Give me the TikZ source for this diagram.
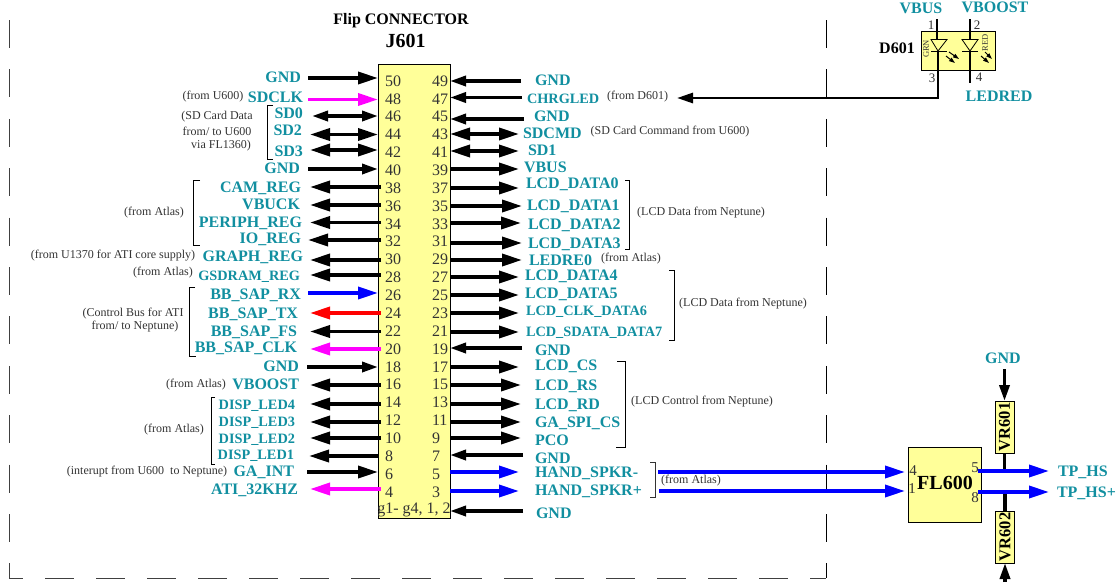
\documentclass[tikz,border=0pt]{standalone}
\usepackage{fontspec}
\setmainfont{Liberation Serif}
\usetikzlibrary{arrows.meta}
\definecolor{netteal}{HTML}{118FA0}
\definecolor{partfill}{HTML}{FFFF99}
\definecolor{notegray}{HTML}{333333}
\definecolor{clockpink}{HTML}{FF00FF}

\begin{document}
\begin{tikzpicture}[x=1pt,y=-1pt,>={Triangle[length=20pt,width=12pt]},
  line width=3.5pt,every node/.style={outer sep=0pt},
  smalltip/.style={>={Triangle[length=16pt,width=10pt]}},
  stub/.style={shorten <=-3pt},
  thin line/.style={line width=0.8pt},
  frameline/.style={line width=1pt,draw=black!75},
  net/.style={inner sep=0pt,text=netteal,text height=11pt,text depth=0pt,font=\fontsize{16}{18}\selectfont\bfseries},
  netsmall/.style={net,font=\fontsize{14.3}{18}\selectfont\bfseries},
  note/.style={inner sep=0pt,text=notegray,font=\fontsize{12}{14}\selectfont},
  pinnum/.style={inner sep=0pt,text=notegray,anchor=west,font=\fontsize{16}{18}\selectfont},
  pinsmall/.style={inner sep=0pt,text=notegray,font=\fontsize{13}{14}\selectfont},
  part/.style={draw=black,line width=1pt,fill=partfill,inner sep=0pt},
  title/.style={inner sep=0pt,text=black,font=\fontsize{16}{18}\selectfont\bfseries}]
  \useasboundingbox (0,0) rectangle (1119,582);
  % dashed outline of the flip
  \draw[frameline,dash pattern=on 28pt off 21.4pt] (9,20) -- (9,578);
  \draw[frameline,dash pattern=on 29pt off 22pt,dash phase=15pt] (9,578) -- (826,578);
  \draw[frameline,draw=black,dash pattern=on 28pt off 21.4pt] (826,20) -- (826,578);
  \node[title] (flip) at (401,21) {Flip CONNECTOR};
  \node[title,font=\fontsize{20}{22}\selectfont\bfseries] (j601) at (405.5,41) {J601};
  \node[part,anchor=north west,minimum width=72pt,minimum height=454pt] (conn) at (378,64) {};
  \foreach \n in {50,48,...,4}
    \node[pinnum] (p\n) at (385,{81+(50-\n)*8.93}) {\n};
  \foreach \n in {49,47,...,3}
    \node[pinnum] (p\n) at (432,{81+(49-\n)*8.93}) {\n};
  \node[inner sep=0pt,text=notegray,font=\fontsize{16}{18}\selectfont] (pg) at (414,510) {g1- g4, 1, 2};

  % left side nets
  \node[net,anchor=east] (n50) at (301,77) {GND};
  \node[net,anchor=east] (n48) at (303,97) {SDCLK};
  \node[net,anchor=east] (n46) at (303,113) {SD0};
  \node[net,anchor=east] (n44) at (302,130) {SD2};
  \node[net,anchor=east] (n42) at (303,151) {SD3};
  \node[net,anchor=east] (n40) at (300,168) {GND};
  \node[net,anchor=east] (n38) at (301,187) {CAM\_REG};
  \node[net,anchor=east] (n36) at (300,204) {VBUCK};
  \node[net,anchor=east] (n34) at (302,222) {PERIPH\_REG};
  \node[net,anchor=east] (n32) at (301,238) {IO\_REG};
  \node[net,anchor=east] (n30) at (303,256) {GRAPH\_REG};
  \node[netsmall,anchor=east] (n28) at (300,275) {GSDRAM\_REG};
  \node[net,anchor=east] (n26) at (301,294) {BB\_SAP\_RX};
  \node[net,anchor=east] (n24) at (298,313) {BB\_SAP\_TX};
  \node[net,anchor=east] (n22) at (297,331) {BB\_SAP\_FS};
  \node[net,anchor=east] (n20) at (297,347) {BB\_SAP\_CLK};
  \node[net,anchor=east] (n18) at (299,366) {GND};
  \node[net,anchor=east] (n16) at (299,384) {VBOOST};
  \node[netsmall,anchor=east] (n14) at (295,404) {DISP\_LED4};
  \node[netsmall,anchor=east] (n12) at (295,421) {DISP\_LED3};
  \node[netsmall,anchor=east] (n10) at (295,438) {DISP\_LED2};
  \node[netsmall,anchor=east] (n8) at (294,454) {DISP\_LED1};
  \node[net,anchor=east] (n6) at (294,471) {GA\_INT};
  \node[net,anchor=east] (n4) at (298,489) {ATI\_32KHZ};

  % left side wires
  \coordinate (w50) at (308,78); \draw[->] (w50) -- (w50 -| conn.west);
  \coordinate (w48) at (308,99.5); \draw[->,clockpink] (w48) -- (w48 -| conn.west);
  \coordinate (w46) at (312,116); \draw[<->,smalltip] (w46) -- (w46 -| conn.west);
  \coordinate (w44) at (310,134.5); \draw[<->] (w44) -- (w44 -| conn.west);
  \coordinate (w42) at (310,150); \draw[<->] (w42) -- (w42 -| conn.west);
  \coordinate (w40) at (308,169); \draw[->,smalltip] (w40) -- (w40 -| conn.west);
  \coordinate (w38) at (310,187); \draw[->,stub] (w38 -| conn.west) -- (w38);
  \coordinate (w36) at (310,205); \draw[->,stub] (w36 -| conn.west) -- (w36);
  \coordinate (w34) at (310,222.5); \draw[->,stub] (w34 -| conn.west) -- (w34);
  \coordinate (w32) at (308,240); \draw[->,stub] (w32 -| conn.west) -- (w32);
  \coordinate (w30) at (310,260); \draw[->,stub] (w30 -| conn.west) -- (w30);
  \coordinate (w28) at (310,275); \draw[->,stub] (w28 -| conn.west) -- (w28);
  \coordinate (w26) at (308,293); \draw[->,blue] (w26) -- (w26 -| conn.west);
  \coordinate (w24) at (310,313); \draw[->,red,stub] (w24 -| conn.west) -- (w24);
  \coordinate (w22) at (310,331.5); \draw[->,stub] (w22 -| conn.west) -- (w22);
  \coordinate (w20) at (310,349); \draw[->,clockpink,stub] (w20 -| conn.west) -- (w20);
  \coordinate (w18) at (307,367); \draw[->,smalltip] (w18) -- (w18 -| conn.west);
  \coordinate (w16) at (310,385); \draw[->,stub] (w16 -| conn.west) -- (w16);
  \coordinate (w14) at (310,404); \draw[->,stub] (w14 -| conn.west) -- (w14);
  \coordinate (w12) at (310,422); \draw[->,stub] (w12 -| conn.west) -- (w12);
  \coordinate (w10) at (310,438); \draw[->,stub] (w10 -| conn.west) -- (w10);
  \coordinate (w8) at (309,456); \draw[->] (w8 -| conn.west) -- (w8);
  \coordinate (w6) at (307,472); \draw[->] (w6) -- (w6 -| conn.west);
  \coordinate (w4) at (310,489); \draw[->,clockpink,stub] (w4 -| conn.west) -- (w4);

  % right side nets
  \node[net,anchor=west] (n49) at (535,80) {GND};
  \node[netsmall,anchor=west] (n47) at (527,98) {CHRGLED};
  \node[net,anchor=west] (n45) at (534,116) {GND};
  \node[net,anchor=west] (n43) at (523,133) {SDCMD};
  \node[net,anchor=west] (n41) at (528,150) {SD1};
  \node[net,anchor=west] (n39) at (524,167) {VBUS};
  \node[net,anchor=west] (n37) at (526,183) {LCD\_DATA0};
  \node[net,anchor=west] (n35) at (527,205) {LCD\_DATA1};
  \node[net,anchor=west] (n33) at (528,224) {LCD\_DATA2};
  \node[net,anchor=west] (n31) at (528,243) {LCD\_DATA3};
  \node[net,anchor=west] (n29) at (529,260) {LEDRE0};
  \node[net,anchor=west] (n27) at (525,275) {LCD\_DATA4};
  \node[net,anchor=west] (n25) at (525,293) {LCD\_DATA5};
  \node[netsmall,anchor=west] (n23) at (526,310) {LCD\_CLK\_DATA6};
  \node[netsmall,anchor=west] (n21) at (526,331) {LCD\_SDATA\_DATA7};
  \node[net,anchor=west] (n19) at (535,350) {GND};
  \node[net,anchor=west] (n17) at (535,365) {LCD\_CS};
  \node[net,anchor=west] (n15) at (535,385) {LCD\_RS};
  \node[net,anchor=west] (n13) at (535,404) {LCD\_RD};
  \node[net,anchor=west] (n11) at (535,422) {GA\_SPI\_CS};
  \node[net,anchor=west] (n9) at (535,440) {PCO};
  \node[net,anchor=west] (n7) at (535,458) {GND};
  \node[net,anchor=west] (n5) at (535,472) {HAND\_SPKR-};
  \node[net,anchor=west] (n3) at (535,490) {HAND\_SPKR+};
  \node[net,anchor=west] (ng) at (536,513) {GND};

  % right side wires
  \coordinate (w49) at (521,81); \draw[->,smalltip] (w49) -- (w49 -| conn.east);
  \coordinate (w47) at (522,97.5); \draw[->,smalltip] (w47) -- (w47 -| conn.east);
  \coordinate (w45) at (524,119); \draw[->,smalltip] (w45) -- (w45 -| conn.east);
  \coordinate (w43) at (519,134); \draw[<->] (w43) -- (w43 -| conn.east);
  \coordinate (w41) at (519,151); \draw[<->] (w41) -- (w41 -| conn.east);
  \coordinate (w39) at (519,169); \draw[->] (w39 -| conn.east) -- (w39);
  \coordinate (w37) at (519,188); \draw[->] (w37 -| conn.east) -- (w37);
  \coordinate (w35) at (522,206); \draw[->] (w35 -| conn.east) -- (w35);
  \coordinate (w33) at (521,223); \draw[->] (w33 -| conn.east) -- (w33);
  \coordinate (w31) at (522,243); \draw[->] (w31 -| conn.east) -- (w31);
  \coordinate (w29) at (522,260); \draw[->] (w29 -| conn.east) -- (w29);
  \coordinate (w27) at (519,277); \draw[->] (w27 -| conn.east) -- (w27);
  \coordinate (w25) at (519,295); \draw[->] (w25 -| conn.east) -- (w25);
  \coordinate (w23) at (519,313); \draw[->] (w23 -| conn.east) -- (w23);
  \coordinate (w21) at (519,332); \draw[->] (w21 -| conn.east) -- (w21);
  \coordinate (w19) at (522,348); \draw[->,smalltip] (w19) -- (w19 -| conn.east);
  \coordinate (w17) at (519,367); \draw[->] (w17 -| conn.east) -- (w17);
  \coordinate (w15) at (521,385); \draw[->] (w15 -| conn.east) -- (w15);
  \coordinate (w13) at (521,404); \draw[->] (w13 -| conn.east) -- (w13);
  \coordinate (w11) at (521,422); \draw[->] (w11 -| conn.east) -- (w11);
  \coordinate (w9) at (521,438); \draw[->] (w9 -| conn.east) -- (w9);
  \coordinate (w7) at (523,455); \draw[->,smalltip] (w7) -- (w7 -| conn.east);
  \coordinate (w5) at (519,472); \draw[->,blue] (w5 -| conn.east) -- (w5);
  \coordinate (w3) at (519,491); \draw[->,blue] (w3 -| conn.east) -- (w3);
  \coordinate (wg) at (523,511); \draw[->,smalltip] (wg) -- (wg -| conn.east);

  % groups and remarks
  \draw[thin line] (273,105) -- (267,105) -- (267,159) -- (273,159);
  \draw[thin line] (200,180) -- (193.5,180) -- (193.5,245) -- (200,245);
  \draw[thin line] (195,287) -- (189.5,287) -- (189.5,356) -- (196,356);
  \draw[thin line] (215,397) -- (211,397) -- (211,464) -- (215,464);
  \draw[thin line] (625,180) -- (629,180) -- (629,249) -- (625,249);
  \draw[thin line] (669,270) -- (674,270) -- (674,340) -- (669,340);
  \draw[thin line] (617,361) -- (625,361) -- (625,447) -- (616,447);
  \draw[thin line,draw=notegray] (650,462) -- (655,462) -- (655,497) -- (650,497);
  \node[note] (r1) at (213,97) {(from U600)};
  \node[note] (r2) at (217,117) {(SD Card Data};
  \node[note] (r3) at (217,131) {from/ to U600};
  \node[note] (r4) at (221,146) {via FL1360)};
  \node[note] (r5) at (154,213) {(from Atlas)};
  \node[note] (r6) at (113,256) {(from U1370 for ATI core supply)};
  \node[note] (r7) at (163,273) {(from Atlas)};
  \node[note] (r8) at (133,314) {(Control Bus for ATI};
  \node[note] (r9) at (135,327) {from/ to Neptune)};
  \node[note] (r10) at (196,385) {(from Atlas)};
  \node[note] (r11) at (174,430) {(from Atlas)};
  \node[note] (r12) at (147,472) {(interupt from U600~~to Neptune)};
  \node[note] (r13) at (637.5,97) {(from D601)};
  \node[note] (r14) at (670,132) {(SD Card Command from U600)};
  \node[note] (r15) at (701,213) {(LCD Data from Neptune)};
  \node[note] (r16) at (631,259) {(from Atlas)};
  \node[note] (r17) at (743,304) {(LCD Data from Neptune)};
  \node[note] (r18) at (702,402) {(LCD Control from Neptune)};
  \node[note] (r19) at (691,481) {(from Atlas)};

  % D601
  \node[part,anchor=north west,minimum width=74.5pt,minimum height=39pt] (d601) at (921,31) {};
  \node[title] (d601name) at (897,48) {D601};
  \node[net] (vbus) at (921,8) {VBUS};
  \node[net] (vboost) at (995,7) {VBOOST};
  \node[net] (ledred) at (999,96) {LEDRED};
  \node[pinsmall] (d1) at (931,25) {1};
  \node[pinsmall] (d2) at (977,25) {2};
  \node[pinsmall] (d3) at (932,78) {3};
  \node[pinsmall] (d4) at (979,77) {4};
  \node[inner sep=0pt,rotate=90,text=notegray,font=\fontsize{8.5}{9}\selectfont] (grn) at (926,49) {GRN};
  \node[inner sep=0pt,rotate=90,text=notegray,font=\fontsize{8.5}{9}\selectfont] (redled) at (985,43) {RED};
  \coordinate (ga) at (938,51);
  \coordinate (gb) at (970,51);
  \coordinate (chrg) at (677,98);
  \coordinate (led4) at (970,83);
  \draw[line width=2.8pt] (937,19) -- (937,40);
  \draw[line width=2.8pt] (970,19) -- (970,40);
  \draw[thin line,fill=partfill] (931,39.5) -- (947,39.5) -- (ga) -- cycle;
  \draw[thin line,fill=partfill] (962,39.5) -- (978,39.5) -- (gb) -- cycle;
  \draw[thin line] (931,51) -- (947,51);
  \draw[thin line] (962,51) -- (978,51);
  \draw[line width=2.8pt,->,smalltip] (ga) |- (chrg);
  \draw[line width=2.8pt] (gb) -- (led4);
  \draw[line width=1pt,-{Triangle[length=6pt,width=4pt]}] (949,52) -- (959,59);
  \draw[line width=1pt,-{Triangle[length=6pt,width=4pt]}] (946,56) -- (955,63);
  \draw[line width=1pt,-{Triangle[length=6pt,width=4pt]}] (985,52) -- (992,59);
  \draw[line width=1pt,-{Triangle[length=6pt,width=4pt]}] (981,56) -- (989,63);

  % FL600 and its varistors
  \node[part,anchor=north west,minimum width=73pt,minimum height=75pt] (fl600) at (908,447) {};
  \node[title,font=\fontsize{20}{22}\selectfont\bfseries] (fl600name) at (945,483) {FL600};
  \node[inner sep=0pt,text=notegray,font=\fontsize{15}{16}\selectfont] (f4) at (913,471) {4};
  \node[inner sep=0pt,text=notegray,font=\fontsize{15}{16}\selectfont] (f1) at (912,489) {1};
  \node[inner sep=0pt,text=notegray,font=\fontsize{15}{16}\selectfont] (f5) at (975,468) {5};
  \node[inner sep=0pt,text=notegray,font=\fontsize{15}{16}\selectfont] (f8) at (975,498) {8};
  \node[part,rotate=90,minimum width=52pt,minimum height=19pt,font=\fontsize{16.5}{18}\selectfont\bfseries] (vr601) at (1004.5,427) {VR601};
  \node[part,rotate=90,minimum width=52pt,minimum height=19pt,font=\fontsize{16.5}{18}\selectfont\bfseries] (vr602) at (1005,537) {VR602};
  \node[net] (gndtop) at (1003,358) {GND};
  \node[net,anchor=west] (tphs) at (1058,471) {TP\_HS};
  \node[net,anchor=west] (tphsp) at (1057,492) {TP\_HS+};
  \coordinate (spkm) at (658,472);
  \coordinate (spkp) at (659,491);
  \coordinate (fl4) at (905,472);
  \coordinate (fl1) at (905,491);
  \coordinate (outm) at (1049,471);
  \coordinate (outp) at (1049,492);
  \coordinate (gndv) at (1004.5,369);
  \coordinate (botv) at (1005,582);
  \draw (vr601.west) -- (vr601.west |- outm);
  \draw (vr602.east) -- (vr602.east |- outp);
  \draw[->,blue] (spkm) -- (fl4);
  \draw[->,blue] (spkp) -- (fl1);
  \draw[->,blue,stub] (outm -| fl600.east) -- (outm);
  \draw[->,blue,stub] (outp -| fl600.east) -- (outp);
  \draw[->,smalltip] (gndv) -- (vr601.east);
  \draw[->,smalltip] (botv) -- (vr602.west);
\end{tikzpicture}
\end{document}
